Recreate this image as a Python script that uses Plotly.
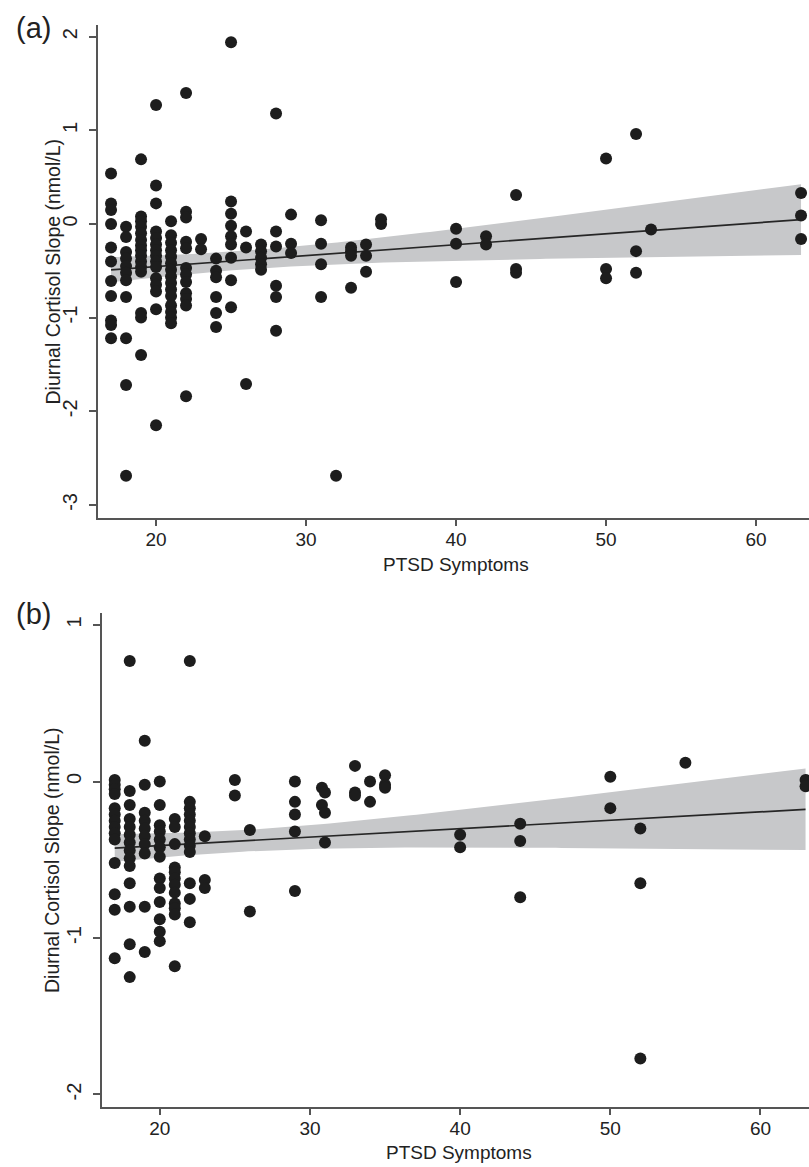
import numpy as np
import plotly.graph_objects as go

# ---------------- data: panel (a) ----------------
a_scores = [17, 18, 19, 20, 21, 22, 23, 24, 25, 26, 27, 28, 29, 31, 32, 33, 34, 35, 40, 42, 44, 50, 52, 53, 63]
a_slopes = [
    [0.54, 0.22, 0.15, 0.0, -0.25, -0.40, -0.61, -0.77, -1.03, -1.08, -1.22],
    [-0.03, -0.14, -0.30, -0.37, -0.45, -0.52, -0.60, -0.78, -1.22, -1.72, -2.69],
    [0.69, 0.08, 0.03, -0.03, -0.10, -0.17, -0.23, -0.28, -0.34, -0.40, -0.46, -0.51, -0.95, -1.0, -1.40],
    [1.27, 0.41, 0.22, -0.08, -0.15, -0.22, -0.28, -0.34, -0.40, -0.46, -0.58, -0.65, -0.72, -0.91, -2.15],
    [0.03, -0.12, -0.20, -0.28, -0.35, -0.42, -0.49, -0.56, -0.63, -0.70, -0.77, -0.87, -0.94, -1.0, -1.06],
    [1.40, 0.13, 0.07, -0.19, -0.26, -0.47, -0.54, -0.62, -0.74, -0.80, -0.87, -1.84],
    [-0.16, -0.27],
    [-0.37, -0.50, -0.57, -0.78, -0.95, -1.10],
    [1.94, 0.24, 0.11, -0.02, -0.13, -0.22, -0.36, -0.60, -0.89],
    [-0.08, -0.25, -1.71],
    [-0.22, -0.29, -0.36, -0.43, -0.49],
    [1.18, -0.08, -0.24, -0.66, -0.78, -1.14],
    [0.10, -0.21, -0.31],
    [0.04, -0.21, -0.43, -0.78],
    [-2.69],
    [-0.25, -0.29, -0.34, -0.68],
    [-0.22, -0.34, -0.51],
    [0.05, 0.0],
    [-0.05, -0.21, -0.62],
    [-0.13, -0.22],
    [0.31, -0.48, -0.52],
    [0.70, -0.48, -0.58],
    [0.96, -0.29, -0.52],
    [-0.06],
    [0.33, 0.09, -0.16],
]

# ---------------- data: panel (b) ----------------
b_scores = [17, 18, 19, 20, 21, 22, 23, 25, 26, 29, 30.8, 31, 33, 34, 35, 40, 44, 50, 52, 55, 63]
b_slopes = [
    [0.01, -0.02, -0.05, -0.08, -0.17, -0.21, -0.25, -0.29, -0.33, -0.37, -0.52, -0.72, -0.82, -1.13],
    [0.77, -0.06, -0.15, -0.24, -0.29, -0.34, -0.39, -0.44, -0.49, -0.54, -0.65, -0.80, -1.04, -1.25],
    [0.26, -0.02, -0.20, -0.25, -0.30, -0.35, -0.40, -0.46, -0.80, -1.09],
    [0.0, -0.15, -0.28, -0.32, -0.37, -0.42, -0.48, -0.62, -0.68, -0.77, -0.88, -0.96, -1.02],
    [-0.24, -0.29, -0.40, -0.55, -0.58, -0.62, -0.66, -0.71, -0.78, -0.81, -0.85, -1.18],
    [0.77, -0.13, -0.17, -0.21, -0.25, -0.29, -0.33, -0.37, -0.41, -0.45, -0.65, -0.75, -0.90],
    [-0.35, -0.63, -0.68],
    [0.01, -0.09],
    [-0.31, -0.83],
    [0.0, -0.13, -0.21, -0.32, -0.70],
    [-0.04, -0.15],
    [-0.07, -0.20, -0.39],
    [0.10, -0.07, -0.09],
    [0.0, -0.13],
    [0.04, -0.02, -0.04],
    [-0.34, -0.42],
    [-0.27, -0.38, -0.74],
    [0.03, -0.17],
    [-0.30, -0.65, -1.77],
    [0.12],
    [0.01, -0.03],
]

x_ticks = [20, 30, 40, 50, 60]
a_yticks = [-3, -2, -1, 0, 1, 2]
b_yticks = [-2, -1, 0, 1]
x_title = "PTSD Symptoms"
y_title = "Diurnal Cortisol Slope (nmol/L)"
panel_labels = ["(a)", "(b)"]

W, H = 809, 1167
FONT = "Liberation Sans, Arial, Helvetica, sans-serif"
DOT = "#1d1d1d"
BAND = "#c7c8ca"
AXC = "#555555"


def flatten(scores, slopes):
    xs, ys = [], []
    for s, vals in zip(scores, slopes):
        for v in vals:
            xs.append(s)
            ys.append(v)
    return np.array(xs, float), np.array(ys, float)


def fit_ci(x, y):
    n = len(x)
    b1, b0 = np.polyfit(x, y, 1)
    grid = np.linspace(x.min(), x.max(), 120)
    res = y - (b0 + b1 * x)
    s = np.sqrt(np.sum(res ** 2) / (n - 2))
    xm = x.mean()
    sxx = np.sum((x - xm) ** 2)
    se = s * np.sqrt(1.0 / n + (grid - xm) ** 2 / sxx)
    fit = b0 + b1 * grid
    return grid, fit, fit - 1.97 * se, fit + 1.97 * se


fig = go.Figure()

panels = [
    (a_scores, a_slopes, "x", "y"),
    (b_scores, b_slopes, "x2", "y2"),
]
for scores, slopes, xa, ya in panels:
    x, y = flatten(scores, slopes)
    g, f, lo, hi = fit_ci(x, y)
    fig.add_trace(go.Scatter(x=np.concatenate([g, g[::-1]]), y=np.concatenate([hi, lo[::-1]]),
                             fill="toself", fillcolor=BAND, line=dict(width=0), mode="lines",
                             hoverinfo="skip", showlegend=False, xaxis=xa, yaxis=ya))
    fig.add_trace(go.Scatter(x=g, y=f, mode="lines", line=dict(color="#262626", width=1.7),
                             showlegend=False, xaxis=xa, yaxis=ya))
    fig.add_trace(go.Scatter(x=x, y=y, mode="markers",
                             marker=dict(color=DOT, size=12, line=dict(width=0)),
                             showlegend=False, xaxis=xa, yaxis=ya))

common_x = dict(showline=True, linecolor=AXC, linewidth=1.5, ticks="outside", ticklen=6,
                tickwidth=1.5, tickcolor=AXC, showgrid=False, zeroline=False,
                tickvals=x_ticks, ticktext=[str(v) for v in x_ticks], ticklabelstandoff=-3,
                tickfont=dict(family=FONT, size=19, color="#222"))
common_y = dict(showline=True, linecolor=AXC, linewidth=1.5, ticks="outside", ticklen=7,
                tickwidth=1.5, tickcolor=AXC, showgrid=False, zeroline=False, tickangle=-90,
                ticklabelstandoff=4,
                tickfont=dict(family=FONT, size=20, color="#222"))

# pixel geometry
a_left, a_top, a_bot = 98, 25, 518
b_left, b_top, b_bot = 101.5, 613, 1107

fig.update_layout(
    width=W, height=H, margin=dict(l=0, r=0, t=0, b=0),
    paper_bgcolor="white", plot_bgcolor="white",
    font=dict(family=FONT, color="#222"),
    xaxis=dict(domain=[a_left / W, 1], range=[16.13, 63.53], anchor="y", **common_x),
    yaxis=dict(domain=[1 - a_bot / H, 1 - a_top / H], range=[-3.14, 2.125], anchor="x",
               tickvals=a_yticks, ticktext=[str(v) for v in a_yticks], **common_y),
    xaxis2=dict(domain=[b_left / W, 1], range=[16.12, 63.23], anchor="y2", **common_x),
    yaxis2=dict(domain=[1 - b_bot / H, 1 - b_top / H], range=[-2.08, 1.077], anchor="x2",
                tickvals=b_yticks, ticktext=[str(v) for v in b_yticks], **common_y),
)

ann = []
for lab, cy in zip(panel_labels, [28, 614]):
    ann.append(dict(text=lab, x=33 / W, y=1 - cy / H, xref="paper", yref="paper",
                    showarrow=False, xanchor="center", yanchor="middle",
                    font=dict(family=FONT, size=29, color="#222")))
for cx, cy in [(456, 564), (459, 1152)]:
    ann.append(dict(text=x_title, x=cx / W, y=1 - cy / H, xref="paper", yref="paper",
                    showarrow=False, xanchor="center", yanchor="middle",
                    font=dict(family=FONT, size=19, color="#222")))
for cy in [(a_top + a_bot) / 2, (b_top + b_bot) / 2]:
    ann.append(dict(text=y_title, x=52 / W, y=1 - cy / H, xref="paper", yref="paper",
                    showarrow=False, xanchor="center", yanchor="middle", textangle=-90,
                    font=dict(family=FONT, size=19.5, color="#222")))
fig.update_layout(annotations=ann)

fig.write_html("out.html", config={"displayModeBar": False},
               post_script="document.body.style.margin='0';document.body.style.overflow='hidden';")
